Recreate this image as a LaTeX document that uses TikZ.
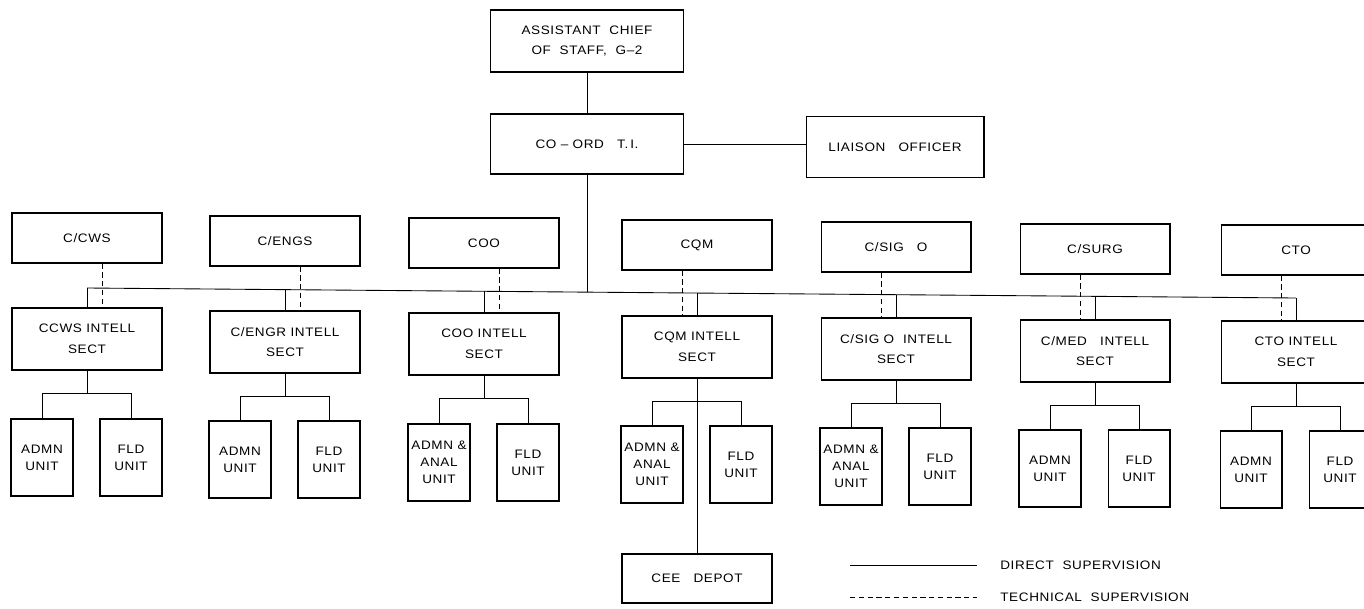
\documentclass[tikz,border=0pt]{standalone}
\usepackage{fontspec}
\setmainfont{Liberation Sans}[FakeStretch=1.1,LetterSpace=5]

\tikzset{
  orgbox/.style={draw, line width=0.6pt, inner sep=0pt, align=center},
  topbox/.style={orgbox, minimum width=3cm, minimum height=1cm},
  sectbox/.style={orgbox, minimum width=3cm, minimum height=1.24cm},
  unitbox/.style={orgbox, minimum width=1.24cm, minimum height=1.54cm,
    font=\fontsize{7}{9.6}\selectfont},
  direct/.style={line width=0.5pt},
  technical/.style={line width=0.5pt, dash pattern=on 3pt off 2pt},
}

\begin{document}
\begin{tikzpicture}[x=0.02cm, y=-0.02cm, font=\fontsize{7}{11.8}\selectfont]
\useasboundingbox (0,0) rectangle (1364,608);

% Drawing head boxes
\node[orgbox, minimum width=3.86cm, minimum height=1.24cm] (acos) at (587,41) {ASSISTANT\ \ CHIEF\\OF\ \ STAFF,\ \ G--2};
\node[orgbox, minimum width=3.86cm, minimum height=1.2cm] (coord) at (587,144) {CO -- ORD\ \ \ T.\,I.};
\node[orgbox, minimum width=3.56cm, minimum height=1.22cm] (liaison) at (895,147) {LIAISON\ \ \ OFFICER};
\draw[direct] (acos) -- (coord);
\draw[direct] (coord.east) -- (coord.east -| liaison.west);

% Drawing the bus line
\coordinate (b1) at (87,288);
\coordinate (b2) at (285,289.6);
\coordinate (b3) at (484,291.3);
\coordinate (bt) at (587,292.1);
\coordinate (b4) at (697,293.1);
\coordinate (b5) at (896,294.7);
\coordinate (b6) at (1095,296.4);
\coordinate (b7) at (1296,298);
\draw[direct] (b1) -- (b7);
\draw[direct] (coord.south) -- (bt);

% Drawing column C/CWS
\node[topbox] (cws) at (87,238) {C/CWS};
\node[sectbox] (cwsint) at (87,339) {CCWS INTELL\\SECT};
\node[unitbox] (cwsadmn) at (42,457.5) {ADMN\\UNIT};
\node[unitbox] (cwsfld) at (131,457.5) {FLD\\UNIT};
\draw[technical] ([xshift=0.3cm]cws.south) -- ([xshift=0.3cm]cwsint.north);
\draw[direct] (b1) -- (cwsint.north);
\draw[direct] (cwsint.south) -- ++(0,23) coordinate (k1);
\draw[direct] (cwsadmn.north) |- (k1) -| (cwsfld.north);

% Drawing column C/ENGS
\node[topbox] (engs) at (285,241) {C/ENGS};
\node[sectbox] (engsint) at (285,342) {C/ENGR INTELL\\SECT};
\node[unitbox] (engsadmn) at (240,459.5) {ADMN\\UNIT};
\node[unitbox] (engsfld) at (329,459.5) {FLD\\UNIT};
\draw[technical] ([xshift=0.3cm]engs.south) -- ([xshift=0.3cm]engsint.north);
\draw[direct] (b2) -- (engsint.north);
\draw[direct] (engsint.south) -- ++(0,23) coordinate (k2);
\draw[direct] (engsadmn.north) |- (k2) -| (engsfld.north);

% Drawing column COO
\node[topbox] (coo) at (484,243) {COO};
\node[sectbox] (cooint) at (484,344) {COO INTELL\\SECT};
\node[unitbox] (cooadmn) at (439,462.5) {ADMN \&\\ANAL\\UNIT};
\node[unitbox] (coofld) at (528,462.5) {FLD\\UNIT};
\draw[technical] ([xshift=0.3cm]coo.south) -- ([xshift=0.3cm]cooint.north);
\draw[direct] (b3) -- (cooint.north);
\draw[direct] (cooint.south) -- ++(0,23) coordinate (k3);
\draw[direct] (cooadmn.north) |- (k3) -| (coofld.north);

% Drawing column CQM
\node[topbox] (cqm) at (697,245) {CQM};
\node[sectbox] (cqmint) at (697,347) {CQM INTELL\\SECT};
\node[unitbox] (cqmadmn) at (652,464.5) {ADMN \&\\ANAL\\UNIT};
\node[unitbox] (cqmfld) at (741,464.5) {FLD\\UNIT};
\node[orgbox, minimum width=3cm, minimum height=0.98cm] (depot) at (697,578.5) {CEE\ \ \ DEPOT};
\draw[technical] ([xshift=-0.3cm]cqm.south) -- ([xshift=-0.3cm]cqmint.north);
\draw[direct] (b4) -- (cqmint.north);
\draw[direct] (cqmint.south) -- (depot.north);
\coordinate (k4) at ([yshift=-0.46cm]cqmint.south);
\draw[direct] (cqmadmn.north) |- (k4) -| (cqmfld.north);

% Drawing column C/SIG O
\node[topbox] (sig) at (896,247) {C/SIG\ \ \ O};
\node[sectbox] (sigint) at (896,349) {C/SIG\ O\ \ INTELL\\SECT};
\node[unitbox] (sigadmn) at (851,466.5) {ADMN \&\\ANAL\\UNIT};
\node[unitbox] (sigfld) at (940,466.5) {FLD\\UNIT};
\draw[technical] ([xshift=-0.3cm]sig.south) -- ([xshift=-0.3cm]sigint.north);
\draw[direct] (b5) -- (sigint.north);
\draw[direct] (sigint.south) -- ++(0,23) coordinate (k5);
\draw[direct] (sigadmn.north) |- (k5) -| (sigfld.north);

% Drawing column C/SURG
\node[topbox] (surg) at (1095,249) {C/SURG};
\node[sectbox] (surgint) at (1095,351) {C/MED\ \ \ INTELL\\SECT};
\node[unitbox] (surgadmn) at (1050,468.5) {ADMN\\UNIT};
\node[unitbox] (surgfld) at (1139,468.5) {FLD\\UNIT};
\draw[technical] ([xshift=-0.3cm]surg.south) -- ([xshift=-0.3cm]surgint.north);
\draw[direct] (b6) -- (surgint.north);
\draw[direct] (surgint.south) -- ++(0,23) coordinate (k6);
\draw[direct] (surgadmn.north) |- (k6) -| (surgfld.north);

% Drawing column CTO
\node[topbox] (cto) at (1296,250) {CTO};
\node[sectbox] (ctoint) at (1296,352) {CTO INTELL\\SECT};
\node[unitbox] (ctoadmn) at (1251,469.5) {ADMN\\UNIT};
\node[unitbox] (ctofld) at (1340,469.5) {FLD\\UNIT};
\draw[technical] ([xshift=-0.3cm]cto.south) -- ([xshift=-0.3cm]ctoint.north);
\draw[direct] (b7) -- (ctoint.north);
\draw[direct] (ctoint.south) -- ++(0,23) coordinate (k7);
\draw[direct] (ctoadmn.north) |- (k7) -| (ctofld.north);

% Drawing legend
\coordinate (ld1) at (850,565);
\coordinate (ld2) at (977,565);
\coordinate (lt1) at (850,597);
\coordinate (lt2) at (977,597);
\draw[direct] (ld1) -- (ld2);
\draw[technical] (lt1) -- (lt2);
\node[anchor=west, inner sep=0pt] (ldirect) at (1000,565) {DIRECT\ \ SUPERVISION};
\node[anchor=west, inner sep=0pt] (ltech) at (1000,597) {TECHNICAL\ \ SUPERVISION};
\end{tikzpicture}
\end{document}
